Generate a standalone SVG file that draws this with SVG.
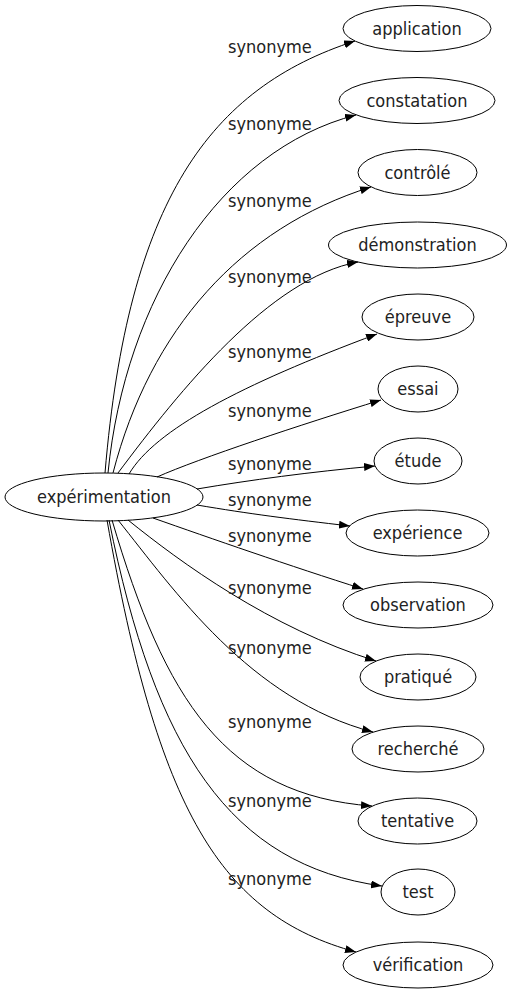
<svg xmlns="http://www.w3.org/2000/svg" width="512" height="995" viewBox="0 0 512 995">
<style>
.n ellipse{fill:none;stroke:#000;stroke-width:1}
.n text,.lbl{font-family:"DejaVu Sans Condensed","DejaVu Sans",sans-serif;font-stretch:condensed;font-size:18px;fill:#222}
.n text{text-anchor:middle}
#edges path{fill:none;stroke:#000;stroke-width:1;marker-end:url(#arr)}
</style>
<defs>
<marker id="arr" viewBox="0 0 11 8" refX="11" refY="4" markerWidth="11" markerHeight="8" orient="auto" markerUnits="userSpaceOnUse"><path d="M0,0 L11,4 L0,8 z" fill="#000"/></marker>
</defs>
<rect width="512" height="995" fill="#fff"/>
<g id="edges">
<path d="M105,473 C128,200 210,88 355,41"/>
<path d="M108,473 C125,300 220,150 356,115"/>
<path d="M113,473 C150,330 240,228 371,187"/>
<path d="M118,473 C180,390 270,278 358,262"/>
<path d="M129,474 C155,430 240,385 377,334"/>
<path d="M157,477 C200,458 300,425 381,400"/>
<path d="M197,489 C250,480 310,472 375,466"/>
<path d="M197,505 C250,514 290,519 350,526"/>
<path d="M153,518 C210,538 290,566 363,589"/>
<path d="M128,520 C180,562 270,628 376,661"/>
<path d="M118,520 C174,590 250,700 373,732"/>
<path d="M112,520 C165,700 225,795 372,806"/>
<path d="M109,520 C155,750 230,865 382,886"/>
<path d="M107,520 C158,810 220,915 356,952"/>
<text class="lbl" x="228" y="53">synonyme</text>
<text class="lbl" x="228" y="130">synonyme</text>
<text class="lbl" x="228" y="207">synonyme</text>
<text class="lbl" x="228" y="283">synonyme</text>
<text class="lbl" x="228" y="358">synonyme</text>
<text class="lbl" x="228" y="417">synonyme</text>
<text class="lbl" x="228" y="470">synonyme</text>
<text class="lbl" x="228" y="506">synonyme</text>
<text class="lbl" x="228" y="542">synonyme</text>
<text class="lbl" x="228" y="594">synonyme</text>
<text class="lbl" x="228" y="654">synonyme</text>
<text class="lbl" x="228" y="728">synonyme</text>
<text class="lbl" x="228" y="807">synonyme</text>
<text class="lbl" x="228" y="885">synonyme</text>
</g>
<g id="n0" class="n"><ellipse cx="104" cy="497" rx="99" ry="24"/><text x="104" y="503">expérimentation</text></g>
<g id="n1" class="n"><ellipse cx="417" cy="28.5" rx="74" ry="23"/><text x="417" y="34.5">application</text></g>
<g id="n2" class="n"><ellipse cx="417" cy="100.5" rx="78" ry="23"/><text x="417" y="106.5">constatation</text></g>
<g id="n3" class="n"><ellipse cx="417.5" cy="172.5" rx="59.5" ry="23"/><text x="417.5" y="178.5">contrôlé</text></g>
<g id="n4" class="n"><ellipse cx="417.5" cy="245" rx="89" ry="23"/><text x="417.5" y="251">démonstration</text></g>
<g id="n5" class="n"><ellipse cx="418" cy="317" rx="56" ry="23"/><text x="418" y="323">épreuve</text></g>
<g id="n6" class="n"><ellipse cx="418" cy="389" rx="40" ry="23"/><text x="418" y="395">essai</text></g>
<g id="n7" class="n"><ellipse cx="418" cy="461" rx="44" ry="23"/><text x="418" y="467">étude</text></g>
<g id="n8" class="n"><ellipse cx="417.5" cy="533" rx="71.5" ry="23"/><text x="417.5" y="539">expérience</text></g>
<g id="n9" class="n"><ellipse cx="418" cy="605" rx="75" ry="23"/><text x="418" y="611">observation</text></g>
<g id="n10" class="n"><ellipse cx="418" cy="677" rx="58" ry="23"/><text x="418" y="683">pratiqué</text></g>
<g id="n11" class="n"><ellipse cx="418" cy="749" rx="66" ry="23"/><text x="418" y="755">recherché</text></g>
<g id="n12" class="n"><ellipse cx="417.5" cy="821" rx="59.5" ry="23"/><text x="417.5" y="827">tentative</text></g>
<g id="n13" class="n"><ellipse cx="418" cy="892" rx="37" ry="23"/><text x="418" y="898">test</text></g>
<g id="n14" class="n"><ellipse cx="418" cy="965" rx="75" ry="23"/><text x="418" y="971">vérification</text></g>
</svg>
